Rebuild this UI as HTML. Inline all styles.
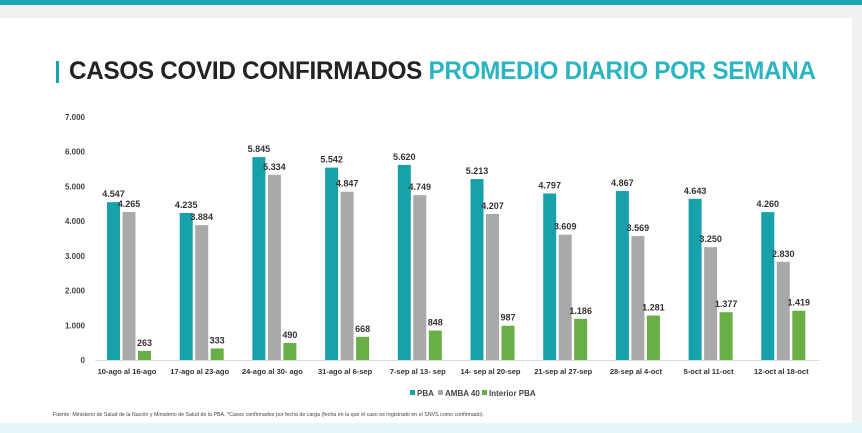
<!DOCTYPE html>
<html><head><meta charset="utf-8"><style>
body{margin:0;width:862px;height:433px;overflow:hidden;background:#fff;font-family:"Liberation Sans",sans-serif;position:relative}
.t{position:absolute}
</style></head><body>
<div class="t" style="left:0;top:0;width:862px;height:5px;background:#1aa3b0"></div>
<div class="t" style="left:0;top:5px;width:862px;height:13px;background:#f0f1f1"></div>
<div class="t" style="left:852px;top:18px;width:10px;height:415px;background:#f0f1f1"></div>
<div class="t" style="left:0;top:423px;width:862px;height:10px;background:#e6f6f8"></div>
<div class="t" style="left:56px;top:61px;width:3px;height:22px;background:#1aa3b0"></div>
<div class="t" style="left:69px;top:57px;font-size:25px;font-weight:bold;white-space:nowrap;transform:scaleX(0.97);transform-origin:0 0;letter-spacing:-0.3px"><span style="color:#222">CASOS COVID CONFIRMADOS</span> <span style="color:#2bb5c2">PROMEDIO DIARIO POR SEMANA</span></div>
<svg class="t" style="left:0;top:0" width="862" height="433">
<g id="g"></g>
</svg>
<script>
const categories=["10-ago al 16-ago","17-ago al 23-ago","24-ago al 30- ago","31-ago al 6-sep","7-sep al 13- sep","14- sep al 20-sep","21-sep al 27-sep","28-sep al 4-oct","5-oct al 11-oct","12-oct al 18-oct"];
const pba=[4547,4235,5845,5542,5620,5213,4797,4867,4643,4260];
const amba=[4265,3884,5334,4847,4749,4207,3609,3569,3250,2830];
const interior=[263,333,490,668,848,987,1186,1281,1377,1419];
const yTicks=[0,1000,2000,3000,4000,5000,6000,7000];
const seriesNames=["PBA","AMBA 40","Interior PBA"];
const colors=["#17a2ab","#aaa8a9","#6aaf45"];
const g=document.getElementById('g');
const NS="http://www.w3.org/2000/svg";
const y=v=>360-v*(243/7000);
const gx=i=>107+i*72.7;
const fmt=v=>v>=1000?Math.floor(v/1000)+"."+String(v%1000).padStart(3,"0"):String(v);
function mk(tag,a,txt){const e=document.createElementNS(NS,tag);for(const k in a)e.setAttribute(k,a[k]);if(txt!==undefined)e.textContent=txt;g.appendChild(e);return e;}
yTicks.forEach(v=>{const e=mk('text',{x:85,y:y(v)+3,'text-anchor':'end','font-size':8,fill:'#444','font-weight':'bold'},fmt(v));

});
const ax=mk('line',{x1:95,x2:820,y1:360.5,y2:360.5,stroke:'#ddd','stroke-width':1});


[pba,amba,interior].forEach((s,si)=>{s.forEach((v,i)=>{
const x=gx(i)+si*15.5;
const r=mk('rect',{x:x,y:y(v),width:13,height:360-y(v),fill:colors[si]});


const t=mk('text',{x:x+6.5,y:y(v)-5,'text-anchor':'middle','font-size':9,'font-weight':'bold',fill:'#333'},fmt(v));


});});
categories.forEach((c,i)=>{const t=mk('text',{x:gx(i)+20,y:374,'text-anchor':'middle','font-size':7.5,'font-weight':'bold',fill:'#333'},c);

});
let lx=410;
seriesNames.forEach((n,i)=>{const r=mk('rect',{x:lx,y:390,width:5,height:5,fill:colors[i]});


const t=mk('text',{x:lx+7,y:396,'font-size':8,'font-weight':'bold',fill:'#444'},n);


lx+=[28,44,50][i];});
const f=mk('text',{x:53,y:416,'font-size':5.3,fill:'#444'},"Fuente: Ministerio de Salud de la Nación y Ministerio de Salud de la PBA. *Casos confirmados por fecha de carga (fecha en la que el caso es registrado en el SNVS como confirmado).");


</script>
</body></html>
